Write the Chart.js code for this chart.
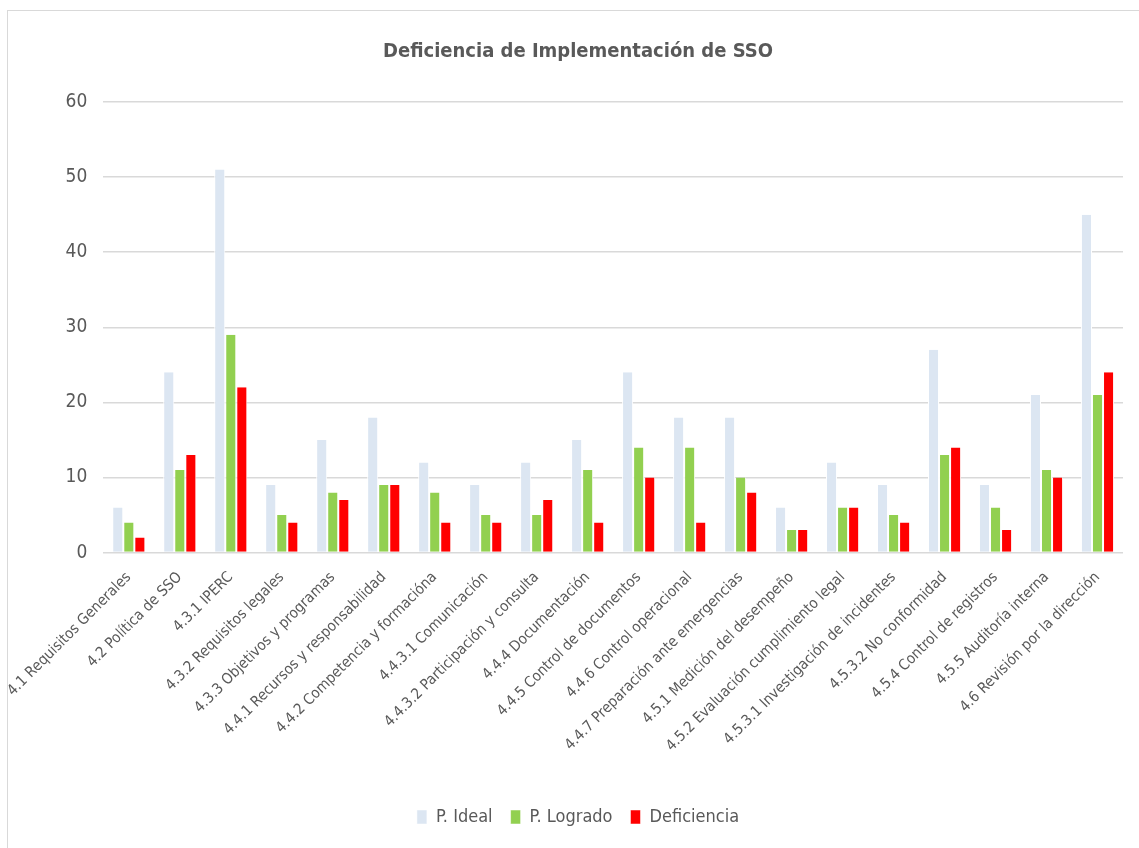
<!DOCTYPE html>
<html>
<head>
<meta charset="utf-8">
<script src="https://cdn.jsdelivr.net/npm/chart.js@4/dist/chart.umd.min.js"></script>
<style>
  html, body { margin: 0; padding: 0; background: #ffffff; }
  #frame { position: absolute; left: 7px; top: 10px; width: 1140px; height: 845px; border: 1px solid #d9d9d9; box-sizing: border-box; }
  #wrap { position: absolute; left: 0; top: 0; width: 1139px; height: 848px; }
</style>
</head>
<body>
<div id="frame"></div>
<div id="wrap"><canvas id="chart"></canvas></div>
<script>
// Elementos de la norma evaluados
const categorias = [
  "4.1 Requisitos Generales",
  "4.2 Política de SSO",
  "4.3.1 IPERC",
  "4.3.2 Requisitos legales",
  "4.3.3 Objetivos y programas",
  "4.4.1 Recursos y responsabilidad",
  "4.4.2 Competencia y formacióna",
  "4.4.3.1 Comunicación",
  "4.4.3.2 Participación y consulta",
  "4.4.4 Documentación",
  "4.4.5 Control de documentos",
  "4.4.6 Control operacional",
  "4.4.7 Preparación ante emergencias",
  "4.5.1 Medición del desempeño",
  "4.5.2 Evaluación cumplimiento legal",
  "4.5.3.1 Investigación de incidentes",
  "4.5.3.2 No conformidad",
  "4.5.4 Control de registros",
  "4.5.5 Auditoría interna",
  "4.6 Revisión por la dirección"
];

// Puntajes por elemento
const puntajeIdeal   = [6, 24, 51, 9, 15, 18, 12, 9, 12, 15, 24, 18, 18, 6, 12, 9, 27, 9, 21, 45];
const puntajeLogrado = [4, 11, 29, 5, 8, 9, 8, 5, 5, 11, 14, 14, 10, 3, 6, 5, 13, 6, 11, 21];
const deficiencia    = [2, 13, 22, 4, 7, 9, 4, 4, 7, 4, 10, 4, 8, 3, 6, 4, 14, 3, 10, 24];

const nombresSeries = ["P. Ideal", "P. Logrado", "Deficiencia"];
const ticksY = [0, 10, 20, 30, 40, 50, 60];

const FUENTE = "'DejaVu Sans Condensed', 'Liberation Sans Narrow', 'Open Sans', sans-serif";
const GRIS = "#595959";

function serie(label, data, color) {
  return {
    label: label,
    data: data,
    backgroundColor: color,
    borderColor: "#ffffff",
    borderWidth: { left: 1, right: 1, top: 0, bottom: 0 },
    borderSkipped: "bottom",
    categoryPercentage: 0.65,
    barPercentage: 1.0
  };
}

new Chart(document.getElementById("chart"), {
  type: "bar",
  data: {
    labels: categorias,
    datasets: [
      serie(nombresSeries[0], puntajeIdeal, "#dce6f2"),
      serie(nombresSeries[1], puntajeLogrado, "#92d050"),
      serie(nombresSeries[2], deficiencia, "#ff0000")
    ]
  },
  options: {
    responsive: true,
    maintainAspectRatio: false,
    animation: false,
    layout: { padding: { left: 33, right: 16, top: 30, bottom: 12 } },
    plugins: {
      title: {
        display: true,
        text: "Deficiencia de Implementación de SSO",
        color: GRIS,
        font: { family: FUENTE, size: 20, weight: "bold" },
        padding: { top: 10, bottom: 38 }
      },
      legend: {
        position: "bottom",
        labels: {
          color: GRIS,
          font: { family: FUENTE, size: 18 },
          boxWidth: 10,
          boxHeight: 14,
          padding: 18,
          useBorderRadius: false
        }
      },
      tooltip: { enabled: false }
    },
    scales: {
      x: {
        grid: { display: false },
        border: { display: false },
        afterFit: (scale) => { scale.height += 27; },
        ticks: {
          autoSkip: false,
          maxRotation: 45,
          minRotation: 45,
          color: GRIS,
          padding: 8,
          font: { family: FUENTE, size: 15 }
        }
      },
      y: {
        min: 0,
        max: 60,
        afterBuildTicks: (axis) => { axis.ticks = ticksY.map(v => ({ value: v })); },
        grid: { color: "#d9d9d9", lineWidth: 1.5, drawTicks: false },
        border: { display: false },
        ticks: {
          color: GRIS,
          padding: 16,
          font: { family: FUENTE, size: 19 }
        }
      }
    }
  }
});
</script>
</body>
</html>
